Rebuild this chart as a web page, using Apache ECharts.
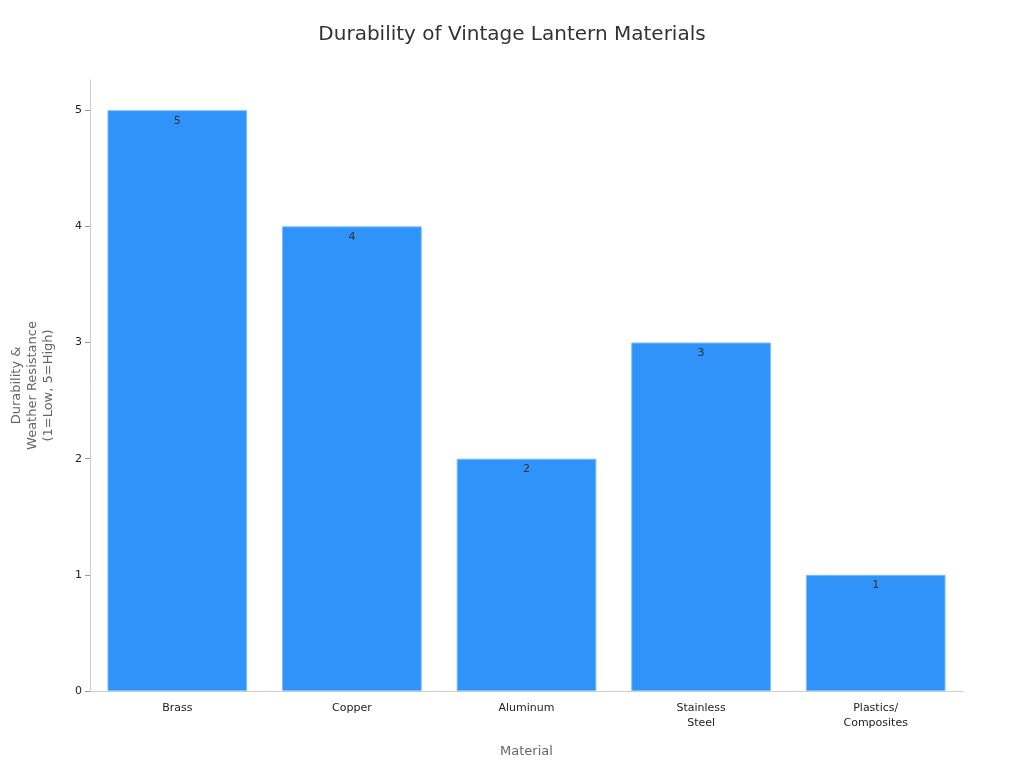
<!DOCTYPE html>
<html><head><meta charset="utf-8">
<script src="https://cdn.jsdelivr.net/npm/echarts@6/dist/echarts.min.js"></script>
<style>html,body{margin:0;padding:0;background:#fff}#c{width:1024px;height:768px}</style>
</head><body><div id="c"></div>
<script>
const categories = ['Brass','Copper','Aluminum','Stainless\nSteel','Plastics/\nComposites'];
const values = [5,4,2,3,1];
const chart = echarts.init(document.getElementById('c'));
chart.setOption({
  textStyle:{fontFamily:'DejaVu Sans'},
  title:{text:'Durability of Vintage Lantern Materials',left:'center',top:20,textStyle:{fontSize:20,fontWeight:'normal',color:'#333',fontFamily:'DejaVu Sans'}},
  grid:{left:90,right:61,top:80,bottom:77,outerBoundsMode:'none',containLabel:false},
  xAxis:{type:'category',data:categories,name:'Material',nameLocation:'middle',nameGap:54,
    nameTextStyle:{fontSize:13,color:'#666'},
    axisLine:{lineStyle:{color:'#ccc'}},axisTick:{show:false},
    axisLabel:{color:'#222',fontSize:11,lineHeight:15,margin:10}},
  yAxis:{type:'value',min:0,max:5.26,interval:1,name:'Durability &\nWeather Resistance\n(1=Low, 5=High)',
    nameLocation:'middle',nameGap:33,nameTextStyle:{fontSize:13,color:'#666',lineHeight:16},
    axisLine:{show:true,lineStyle:{color:'#ccc'}},axisTick:{show:true,lineStyle:{color:'#999'}},
    splitLine:{show:false},axisLabel:{color:'#222',fontSize:11,showMaxLabel:false}},
  series:[{type:'bar',data:values,barWidth:'80%',
    itemStyle:{color:'#2f93fa',borderColor:'#7dbcfc',borderWidth:1},
    label:{show:true,position:'insideTop',color:'#333',fontSize:11,offset:[0,0]}}]
});
</script></body></html>
